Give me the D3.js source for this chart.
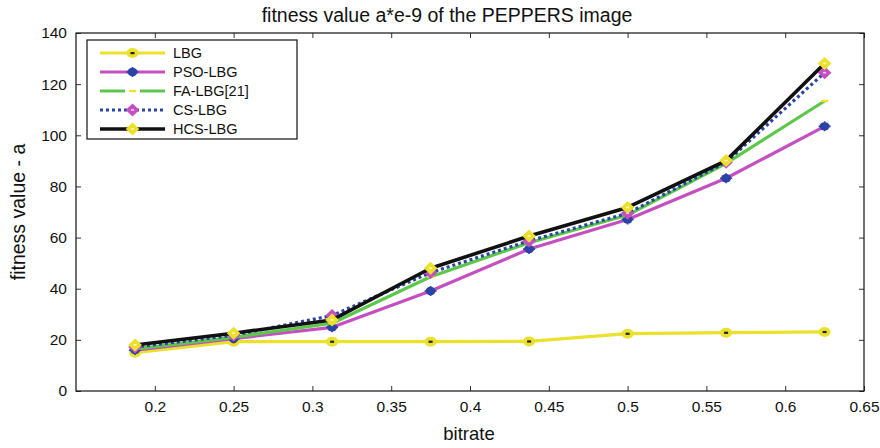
<!DOCTYPE html>
<html>
<head>
<meta charset="utf-8">
<script src="https://cdn.jsdelivr.net/npm/d3@7"></script>
<style>
  html, body { margin: 0; padding: 0; background: #fff; }
  svg { display: block; font-family: "Liberation Sans", Arial, Helvetica, sans-serif; }
</style>
</head>
<body>
<svg id="chart" width="880" height="448"></svg>
<script>
// Bitrates tested
const bitrates = [0.1875, 0.25, 0.3125, 0.375, 0.4375, 0.5, 0.5625, 0.625];

// Fitness values (a*e-9) per method
const lbg    = [15.0, 19.3, 19.3, 19.3, 19.4, 22.4, 22.8, 23.1];
const psoLbg = [16.0, 20.5, 24.9, 39.1, 55.5, 67.1, 83.2, 103.5];
const faLbg  = [16.5, 21.0, 26.5, 44.7, 58.0, 68.8, 89.0, 113.4];
const csLbg  = [17.2, 21.8, 29.5, 46.3, 58.7, 69.5, 89.5, 124.5];
const hcsLbg = [18.0, 22.6, 27.8, 48.0, 60.6, 71.8, 90.1, 128.1];

const seriesNames = ["LBG", "PSO-LBG", "FA-LBG[21]", "CS-LBG", "HCS-LBG"];

const xTicks = [0.2, 0.25, 0.3, 0.35, 0.4, 0.45, 0.5, 0.55, 0.6, 0.65];
const yTicks = [0, 20, 40, 60, 80, 100, 120, 140];

const yellow = "#ebe02c", magenta = "#c44fc1", green = "#5cc84a", blue = "#2c43a6", black = "#111";

const styles = [
  { name: seriesNames[0], values: lbg,    stroke: yellow,  width: 3.2, dash: null,  marker: "circle",  mFill: yellow,  dot: "#222" },
  { name: seriesNames[1], values: psoLbg, stroke: magenta, width: 3.2, dash: null,  marker: "star",    mFill: blue,    dot: null },
  { name: seriesNames[2], values: faLbg,  stroke: green,   width: 3.2, dash: null,  marker: "point",   mFill: yellow,  dot: null },
  { name: seriesNames[3], values: csLbg,  stroke: blue,    width: 3.2, dash: "3,3", marker: "diamond", mFill: magenta, dot: "#f0d0f0" },
  { name: seriesNames[4], values: hcsLbg, stroke: black,   width: 3.6, dash: null,  marker: "diamond", mFill: yellow,  dot: "#fff8c0" }
];

const m = { left: 76, right: 864, top: 33, bottom: 391 };
const svg = d3.select("#chart");

const x = d3.scaleLinear().domain([0.15, 0.65]).range([m.left, m.right]);
const y = d3.scaleLinear().domain([0, 140]).range([m.bottom, m.top]);

// Title and axis labels
svg.append("text").attr("x", 447).attr("y", 22).attr("text-anchor", "middle")
  .attr("font-size", 19.5).attr("fill", "#111").text("fitness value a*e-9 of the PEPPERS image");
svg.append("text").attr("x", 469).attr("y", 440).attr("text-anchor", "middle")
  .attr("font-size", 18.5).attr("fill", "#111").text("bitrate");
svg.append("text").attr("transform", `translate(25,${(m.top + m.bottom) / 2}) rotate(-90)`)
  .attr("text-anchor", "middle").attr("font-size", 19.5).attr("fill", "#111").text("fitness value - a");

// Axes with inward ticks on all four sides
const tickLen = 5;
const axB = svg.append("g").attr("transform", `translate(0,${m.bottom})`)
  .call(d3.axisBottom(x).tickValues(xTicks).tickSize(-tickLen).tickPadding(10).tickFormat(d3.format("")));
const axT = svg.append("g").attr("transform", `translate(0,${m.top})`)
  .call(d3.axisTop(x).tickValues(xTicks).tickSize(-tickLen).tickFormat(""));
const axL = svg.append("g").attr("transform", `translate(${m.left},0)`)
  .call(d3.axisLeft(y).tickValues(yTicks).tickSize(-tickLen).tickPadding(9));
const axR = svg.append("g").attr("transform", `translate(${m.right},0)`)
  .call(d3.axisRight(y).tickValues(yTicks).tickSize(-tickLen).tickFormat(""));
[axB, axT, axL, axR].forEach(g => {
  g.select(".domain").remove();
  g.selectAll(".tick line").attr("stroke", "#333").attr("stroke-width", 1);
  g.selectAll(".tick text").attr("font-size", 15.5).attr("fill", "#111")
    .attr("font-family", "'Liberation Sans', Arial, sans-serif");
});

// Plot frame
svg.append("rect").attr("x", m.left).attr("y", m.top)
  .attr("width", m.right - m.left).attr("height", m.bottom - m.top)
  .attr("fill", "none").attr("stroke", "#111").attr("stroke-width", 1.2);

const line = d3.line().x((d, i) => x(bitrates[i])).y(d => y(d));

function drawMarker(g, s, cx, cy) {
  if (s.marker === "circle") {
    g.append("ellipse").attr("cx", cx).attr("cy", cy).attr("rx", 6).attr("ry", 5).attr("fill", s.mFill);
    g.append("rect").attr("x", cx - 2).attr("y", cy - 1).attr("width", 4).attr("height", 2.2).attr("fill", s.dot);
  } else if (s.marker === "star") {
    g.append("ellipse").attr("cx", cx).attr("cy", cy).attr("rx", 5).attr("ry", 4.2).attr("fill", s.mFill);
    g.append("path").attr("d", `M${cx - 6},${cy}H${cx + 6}M${cx},${cy - 5}V${cy + 5}`)
      .attr("stroke", s.mFill).attr("stroke-width", 1.6);
  } else if (s.marker === "point") {
    g.append("rect").attr("x", cx - 3.5).attr("y", cy - 1.2).attr("width", 7).attr("height", 2.4).attr("fill", s.mFill);
  } else if (s.marker === "diamond") {
    const r = 6.5;
    g.append("path").attr("d", `M${cx},${cy - r}L${cx + r * 1.05},${cy}L${cx},${cy + r}L${cx - r * 1.05},${cy}Z`)
      .attr("fill", s.mFill);
    g.append("rect").attr("x", cx - 1.5).attr("y", cy - 0.8).attr("width", 3).attr("height", 1.6).attr("fill", s.dot);
  }
}

// Series lines and markers
styles.forEach(s => {
  const g = svg.append("g");
  g.append("path").datum(s.values).attr("d", line)
    .attr("fill", "none").attr("stroke", s.stroke).attr("stroke-width", s.width)
    .attr("stroke-dasharray", s.dash).attr("stroke-linejoin", "round");
  s.values.forEach((v, i) => drawMarker(g, s, x(bitrates[i]), y(v)));
});

// Legend
const lg = svg.append("g");
lg.append("rect").attr("x", 87).attr("y", 40).attr("width", 210).attr("height", 99)
  .attr("fill", "#fff").attr("stroke", "#111").attr("stroke-width", 1.2);
styles.forEach((s, i) => {
  const ly = 53 + i * 19;
  if (s.name === "FA-LBG[21]") {
    lg.append("path").attr("d", `M100,${ly}H125M140,${ly}H165`)
      .attr("stroke", s.stroke).attr("stroke-width", s.width);
  } else {
    lg.append("path").attr("d", `M100,${ly}H165`)
      .attr("stroke", s.stroke).attr("stroke-width", s.width).attr("stroke-dasharray", s.dash);
  }
  drawMarker(lg, s, 132.5, ly);
  lg.append("text").attr("x", 173).attr("y", ly + 5).attr("font-size", 14.5).attr("fill", "#111").text(s.name);
});
</script>
</body>
</html>
